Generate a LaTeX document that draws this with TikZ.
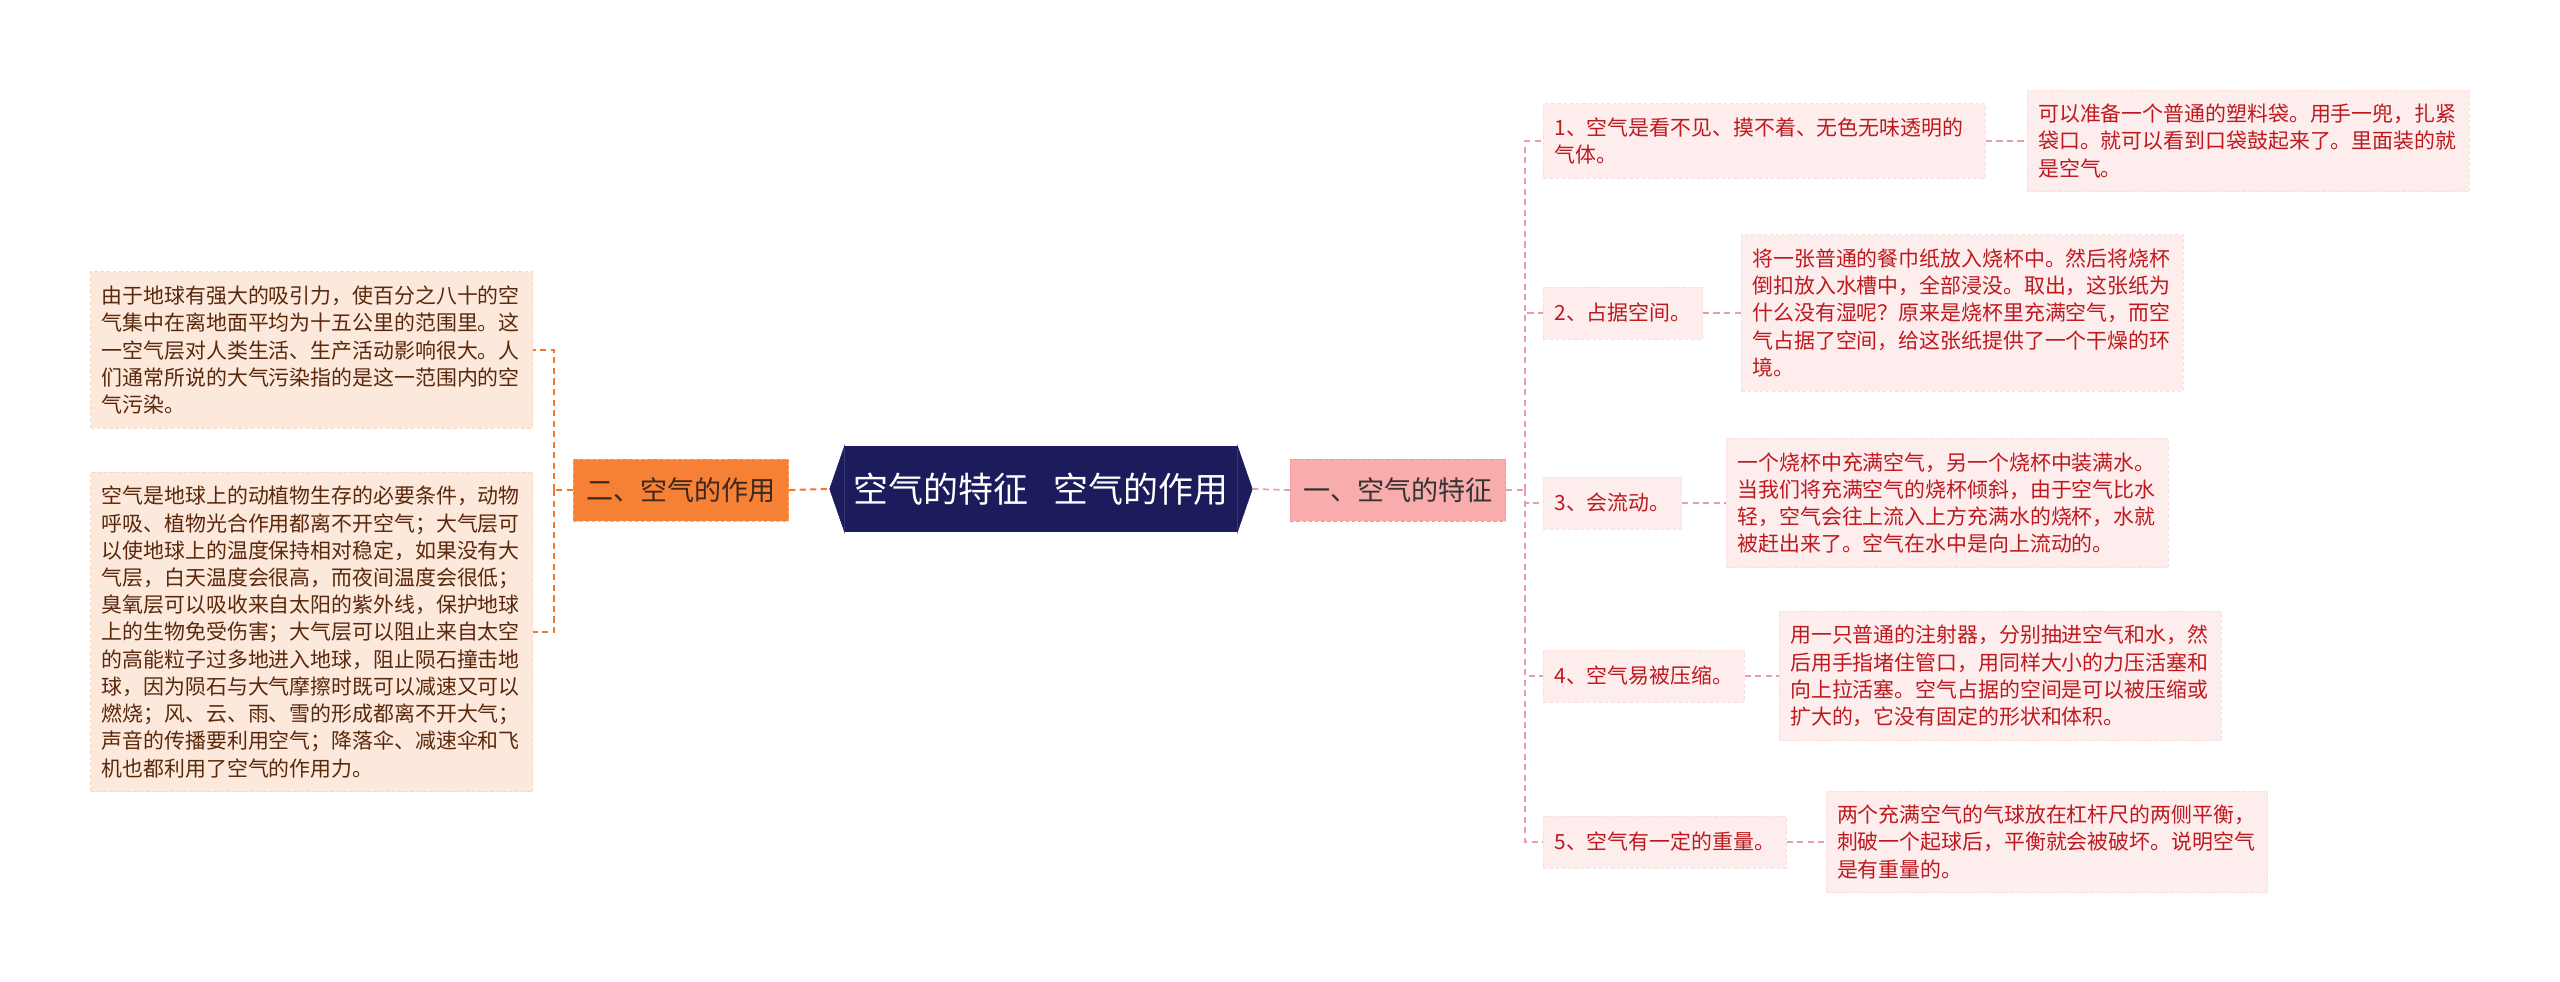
\documentclass[tikz,border=0pt]{standalone}
\usepackage{fontspec}
\setmainfont{Noto Sans CJK SC}
\usetikzlibrary{positioning}
\definecolor{shenlan}{RGB}{28,27,92}
\definecolor{cheng}{RGB}{246,128,52}
\definecolor{chengbian}{RGB}{252,176,120}
\definecolor{chengzi}{RGB}{60,40,30}
\definecolor{chengxian}{RGB}{238,120,50}
\definecolor{chengdi}{RGB}{253,232,220}
\definecolor{chengdibian}{RGB}{250,214,194}
\definecolor{hezi}{RGB}{90,40,10}
\definecolor{fen}{RGB}{248,172,172}
\definecolor{fenbian}{RGB}{240,150,150}
\definecolor{fenxian}{RGB}{232,160,168}
\definecolor{huizi}{RGB}{51,51,51}
\definecolor{hongdi}{RGB}{253,237,237}
\definecolor{hongbian}{RGB}{248,222,222}
\definecolor{hongzi}{RGB}{190,25,30}
\begin{document}
\begin{tikzpicture}[
  x=0.02cm, y=-0.02cm,
  font=\fontsize{11.9pt}{15.5pt}\selectfont,
  ti/.style={fill=shenlan, text=white, minimum width=7.84cm, minimum height=1.72cm, inner sep=0pt, font=\fontsize{19.9pt}{24pt}\selectfont},
  zhi/.style={draw, dash pattern=on 2pt off 1.5pt, line width=0.5pt, minimum height=1.24cm, inner xsep=0.26cm, font=\fontsize{15.4pt}{18pt}\selectfont},
  zuozhi/.style={zhi, fill=cheng, draw=chengbian, text=chengzi},
  youzhi/.style={zhi, fill=fen, draw=fenbian, text=huizi},
  kuang/.style={draw, dash pattern=on 2pt off 1.5pt, line width=0.5pt, inner xsep=0.22cm, inner ysep=0.28cm, align=left},
  hong/.style={kuang, fill=hongdi, draw=hongbian, text=hongzi, minimum height=1.04cm},
  hongw/.style={hong, text width=8.4cm},
  fol/.style={kuang, fill=chengdi, draw=chengdibian, text=hezi, text width=8.4cm},
  lnk/.style={draw=chengxian, line width=1.1pt, dash pattern=on 3.5pt off 2.5pt},
  rlnk/.style={draw=fenxian, line width=1pt, dash pattern=on 3.5pt off 2.5pt}
]
\fill[white] (0,0) rectangle (2560,982);
% 中心主题
\node[ti] (zhu) at (1041,489) {空气的特征\hspace{0.7em}空气的作用};
\fill[shenlan, draw=shenlan, line width=0.3pt] (zhu.north west) -- ([xshift=-0.3cm]zhu.west) -- (zhu.south west) -- cycle;
\fill[shenlan, draw=shenlan, line width=0.3pt] (zhu.north east) -- ([xshift=0.3cm]zhu.east) -- (zhu.south east) -- cycle;
\coordinate (jianz) at ([xshift=-0.3cm]zhu.west);
\coordinate (jiany) at ([xshift=0.3cm]zhu.east);
% 两个分支
\node[zuozhi] (zuo) at (681,490) {二、空气的作用};
\node[youzhi] (you) at (1398,490) {一、空气的特征};
\draw[lnk] (zuo.east) -- (jianz);
\draw[rlnk] (jiany) -- (you.west);
% 左侧：空气的作用
\node[fol, anchor=east] (l1) at (533,350) {由于地球有强大的吸引力，使百分之八十的空\\气集中在离地面平均为十五公里的范围里。这\\一空气层对人类生活、生产活动影响很大。人\\们通常所说的大气污染指的是这一范围内的空\\气污染。};
\node[fol, anchor=east] (l2) at (533,632) {空气是地球上的动植物生存的必要条件，动物\\呼吸、植物光合作用都离不开空气；大气层可\\以使地球上的温度保持相对稳定，如果没有大\\气层，白天温度会很高，而夜间温度会很低；\\臭氧层可以吸收来自太阳的紫外线，保护地球\\上的生物免受伤害；大气层可以阻止来自太空\\的高能粒子过多地进入地球，阻止陨石撞击地\\球，因为陨石与大气摩擦时既可以减速又可以\\燃烧；风、云、雨、雪的形成都离不开大气；\\声音的传播要利用空气；降落伞、减速伞和飞\\机也都利用了空气的作用力。};
\coordinate (lj) at ([xshift=-0.38cm]zuo.west);
\draw[lnk] (zuo.west) -- (lj);
\foreach \i in {1,2}
  \draw[lnk] (lj) |- (l\i.east);
% 右侧：空气的特征
\foreach \n/\y/\s/\t/\g/\d in {
  1/141/hongw/{1、空气是看不见、摸不着、无色无味透明的\\气体。}/0.82/{可以准备一个普通的塑料袋。用手一兜，扎紧\\袋口。就可以看到口袋鼓起来了。里面装的就\\是空气。},
  2/313/hong/{2、占据空间。}/0.76/{将一张普通的餐巾纸放入烧杯中。然后将烧杯\\倒扣放入水槽中，全部浸没。取出，这张纸为\\什么没有湿呢？原来是烧杯里充满空气，而空\\气占据了空间，给这张纸提供了一个干燥的环\\境。},
  3/503/hong/{3、会流动。}/0.88/{一个烧杯中充满空气，另一个烧杯中装满水。\\当我们将充满空气的烧杯倾斜，由于空气比水\\轻，空气会往上流入上方充满水的烧杯，水就\\被赶出来了。空气在水中是向上流动的。},
  4/676/hong/{4、空气易被压缩。}/0.68/{用一只普通的注射器，分别抽进空气和水，然\\后用手指堵住管口，用同样大小的力压活塞和\\向上拉活塞。空气占据的空间是可以被压缩或\\扩大的，它没有固定的形状和体积。},
  5/842/hong/{5、空气有一定的重量。}/0.78/{两个充满空气的气球放在杠杆尺的两侧平衡，\\刺破一个起球后，平衡就会被破坏。说明空气\\是有重量的。}} {
  \node[\s, anchor=west] (r\n) at (1543,\y) {\t};
  \node[hongw, right=\g cm of r\n] (d\n) {\d};
  \draw[rlnk] (r\n.east) -- (d\n.west);
}
\coordinate (rj) at ([xshift=0.38cm]you.east);
\draw[rlnk] (you.east) -- (rj);
\foreach \i in {1,...,5}
  \draw[rlnk] (rj) |- (r\i.west);
\end{tikzpicture}
\end{document}
